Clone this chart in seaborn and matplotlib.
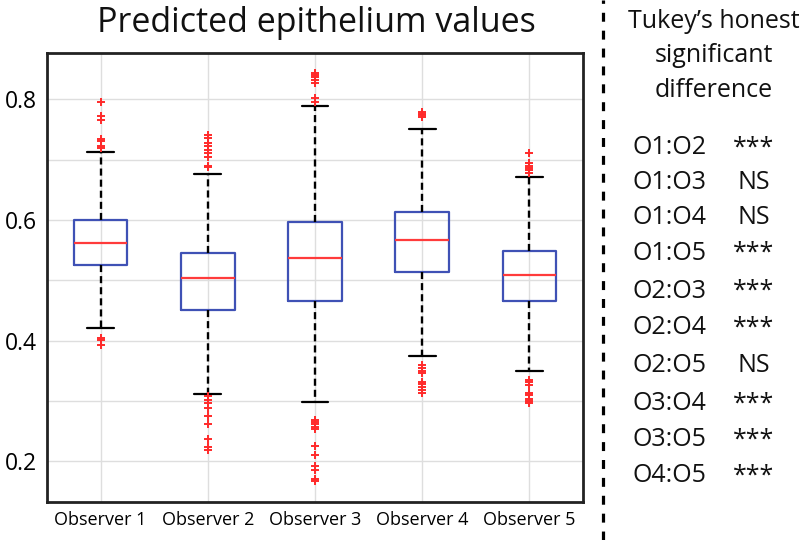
import matplotlib
matplotlib.use('Agg')
import matplotlib.pyplot as plt
from matplotlib.lines import Line2D
import seaborn as sns

# Box statistics
observers = ['Observer 1', 'Observer 2', 'Observer 3', 'Observer 4', 'Observer 5']
medians = [0.562, 0.503, 0.536, 0.567, 0.509]
q1 = [0.525, 0.451, 0.466, 0.513, 0.465]
q3 = [0.600, 0.545, 0.597, 0.613, 0.549]
whisker_low = [0.420, 0.312, 0.299, 0.374, 0.350]
whisker_high = [0.713, 0.676, 0.788, 0.751, 0.671]
outliers_1 = [0.795, 0.772, 0.766, 0.734, 0.730, 0.723, 0.719, 0.405, 0.401, 0.393]
outliers_2 = [0.741, 0.735, 0.728, 0.723, 0.716, 0.710, 0.705, 0.689, 0.687,
              0.308, 0.301, 0.296, 0.289, 0.275, 0.262, 0.237, 0.223, 0.218]
outliers_3 = [0.843, 0.840, 0.836, 0.831, 0.826, 0.802, 0.796,
              0.268, 0.265, 0.261, 0.257, 0.253, 0.225, 0.210, 0.192, 0.185, 0.171, 0.167]
outliers_4 = [0.779, 0.776, 0.773, 0.770,
              0.359, 0.355, 0.350, 0.347, 0.332, 0.328, 0.323, 0.318, 0.313]
outliers_5 = [0.711, 0.694, 0.690, 0.686, 0.682, 0.678,
              0.335, 0.331, 0.327, 0.313, 0.309, 0.304, 0.300, 0.296]
outliers = [outliers_1, outliers_2, outliers_3, outliers_4, outliers_5]

# Tukey HSD panel
pairs = ['O1:O2', 'O1:O3', 'O1:O4', 'O1:O5', 'O2:O3',
         'O2:O4', 'O2:O5', 'O3:O4', 'O3:O5', 'O4:O5']
significance = ['***', 'NS', 'NS', '***', '***', '***', 'NS', '***', '***', '***']

sns.set_theme(style='whitegrid')
plt.rcParams['font.family'] = ['Open Sans', 'DejaVu Sans']

W, H = 810, 540
fig = plt.figure(figsize=(W / 100, H / 100), dpi=100)
ax = fig.add_axes([47 / W, 1 - 501.7 / H, (583 - 47) / W, (501.7 - 52.7) / H])

stats = []
for i, name in enumerate(observers):
    stats.append({'label': name, 'med': medians[i], 'q1': q1[i], 'q3': q3[i],
                  'whislo': whisker_low[i], 'whishi': whisker_high[i],
                  'fliers': outliers[i]})

ax.bxp(stats, positions=range(len(observers)), widths=0.5,
       boxprops=dict(color='#3f51b5', linewidth=1.6),
       medianprops=dict(color='#ff3b3b', linewidth=1.6),
       whiskerprops=dict(color='black', linewidth=1.7, linestyle=(0, (3.0, 1.7))),
       capprops=dict(color='black', linewidth=1.6),
       flierprops=dict(marker='+', markeredgecolor='#ff2a2a', markersize=5.5,
                       markeredgewidth=1.4, linestyle='none'),
       capwidths=0.25)

ax.set_xlim(-0.5, 4.5)
ax.set_ylim(0.133, 0.877)
ax.set_xticks(range(len(observers)))
ax.set_xticklabels(observers)
ax.set_yticks([0.2, 0.4, 0.6, 0.8])
ax.set_yticks([0.3, 0.5, 0.7], minor=True)
ax.grid(True, which='both', color='#dedede', linewidth=1)
ax.tick_params(axis='y', labelsize=16.5, pad=7, colors='black', length=0)
ax.tick_params(axis='x', labelsize=13, pad=7, colors='black', length=0)
ax.tick_params(which='minor', length=0)
for s in ax.spines.values():
    s.set_color('#222222')
    s.set_linewidth(2)

fig.text(316 / W, 1 - 32 / H, 'Predicted epithelium values', fontsize=24.5,
         ha='center', va='baseline', color='#111111')

# separator
fig.add_artist(Line2D([603 / W, 603 / W], [0, 1], transform=fig.transFigure,
                      color='black', linewidth=2.3, linestyle=(0, (2.8, 2.8))))

for txt, yb in zip(["Tukey\u2019s honest", 'significant', 'difference'], [28, 62, 97]):
    fig.text(714 / W, 1 - yb / H, txt, fontsize=18, ha='center', va='baseline',
             color='#111111')

row_centers = [145, 180, 215, 250, 288, 325, 362, 401, 437, 473]
for p, sig, yc in zip(pairs, significance, row_centers):
    fig.text(632 / W, 1 - (yc + 9.5) / H, p, fontsize=18, ha='left', va='baseline',
             color='#111111')
    fig.text(754 / W, 1 - (yc + 9.5) / H, sig, fontsize=18, ha='center',
             va='baseline', color='#111111')

fig.savefig('out.png', dpi=100, facecolor='white')
